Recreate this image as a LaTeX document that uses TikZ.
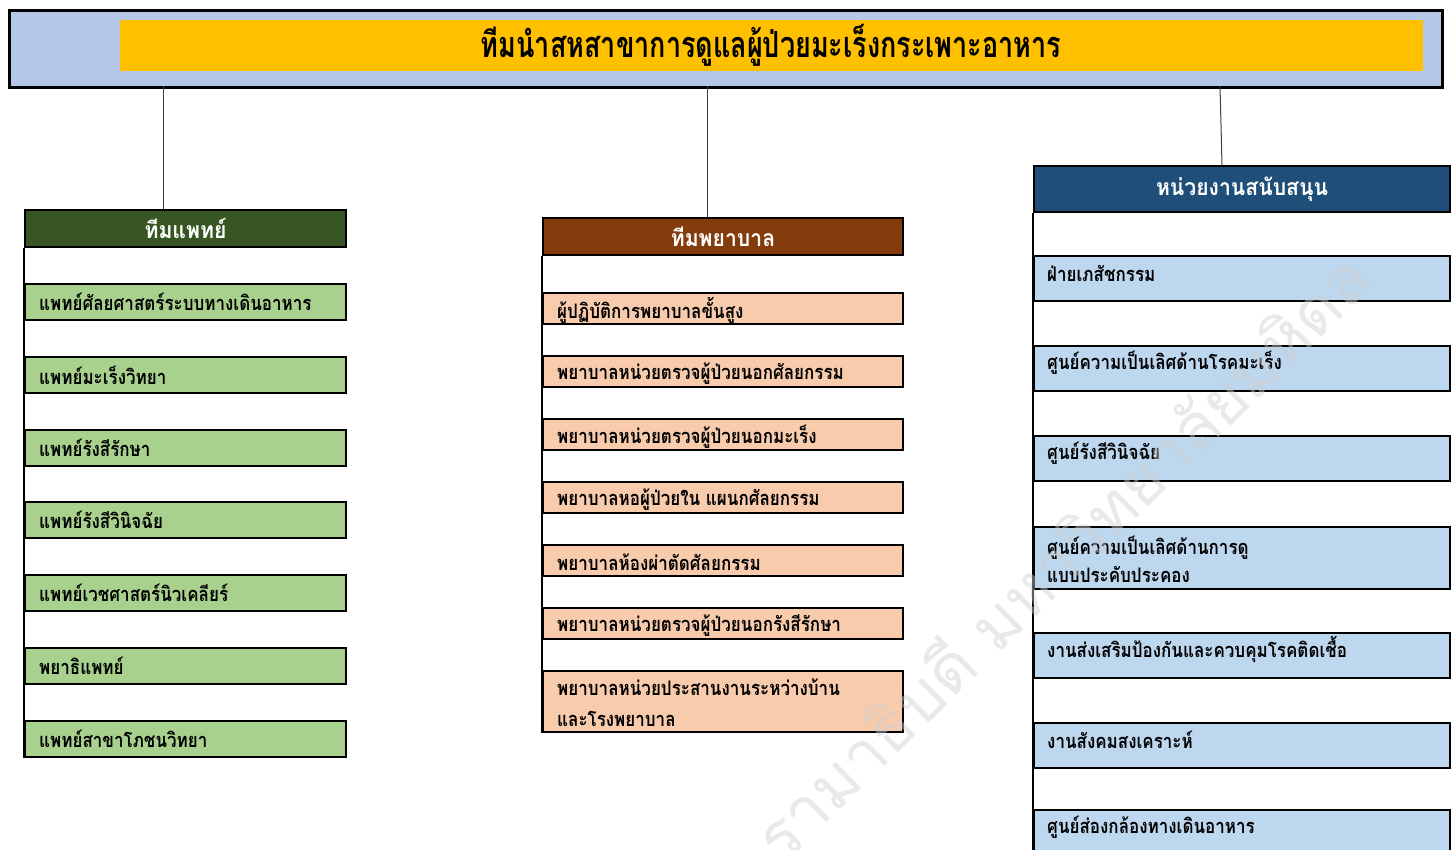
\documentclass[tikz,border=0pt]{standalone}
\usepackage{fontspec}
\newfontfamily\thai[Script=Thai]{Loma}
\newfontfamily\thaiitem[Script=Thai,FakeStretch=0.85]{Loma}
\newfontfamily\thaihdr[Script=Thai,FakeStretch=0.92]{Loma}
\newfontfamily\thaicond[Script=Thai,FakeStretch=0.75]{Loma}
\definecolor{titlebg}{HTML}{B4C7E7}
\definecolor{titley}{HTML}{FFC000}
\definecolor{dgreen}{HTML}{375623}
\definecolor{lgreen}{HTML}{A9D18E}
\definecolor{brown}{HTML}{843C0C}
\definecolor{peach}{HTML}{F8CBAD}
\definecolor{dblue}{HTML}{1F4E79}
\definecolor{lblue}{HTML}{BDD7EE}
\definecolor{conn}{HTML}{404040}
\definecolor{wmark}{HTML}{CFCFCF}
\begin{document}
\begin{tikzpicture}[x=1pt,y=-1pt,
  box/.style={anchor=north west,inner sep=0pt,draw=black,line width=2pt},
  hdrL/.style={box,fill=dgreen,minimum width=321pt,minimum height=37pt},
  hdrM/.style={box,fill=brown,minimum width=360pt,minimum height=37pt},
  hdrR/.style={box,fill=dblue,minimum width=416pt,minimum height=46pt},
  hdrtxt/.style={text=white,font=\thaihdr\bfseries\fontsize{23}{26}\selectfont},
  itemL/.style={box,fill=lgreen,minimum width=321pt,minimum height=36pt},
  itemM/.style={box,fill=peach,minimum width=360pt,minimum height=#1},
  itemM/.default=31pt,
  itemR/.style={box,fill=lblue,minimum width=416pt,minimum height=#1},
  itemR/.default=45pt,
  txt/.style={anchor=west,inner sep=0pt,align=left,font=\thaiitem\bfseries\fontsize{20}{31}\selectfont},
  txtR/.style={txt,font=\thaiitem\bfseries\fontsize{20}{28}\selectfont},
  spine/.style={draw=black,line width=2pt},
  connector/.style={draw=conn,line width=1pt}]
\useasboundingbox (0,0) rectangle (1456,849);
% title
\node[anchor=north west,inner sep=0pt,draw=black,line width=2.5pt,fill=titlebg,minimum width=1433pt,minimum height=77pt] (top) at (8,9) {};
\node[anchor=north west,inner sep=0pt,fill=titley,minimum width=1303pt,minimum height=51pt] (band) at (120,20) {};
\node[inner sep=0pt,font=\thaicond\bfseries\fontsize{36}{40}\selectfont] (title) at (771,45) {ทีมนำสหสาขาการดูแลผู้ป่วยมะเร็งกระเพาะอาหาร};
% left column
\node[hdrL,hdrtxt] (L0) at (24,209) {ทีมแพทย์};
\node[itemL] (L1) at (24,283) {};
\node[itemL] (L2) at (24,356) {};
\node[itemL] (L3) at (24,429) {};
\node[itemL] (L4) at (24,501) {};
\node[itemL] (L5) at (24,574) {};
\node[itemL] (L6) at (24,647) {};
\node[itemL] (L7) at (24,720) {};
\node[txt] (L1t) at ([xshift=15pt]L1.west) {แพทย์ศัลยศาสตร์ระบบทางเดินอาหาร};
\node[txt] (L2t) at ([xshift=15pt]L2.west) {แพทย์มะเร็งวิทยา};
\node[txt] (L3t) at ([xshift=15pt]L3.west) {แพทย์รังสีรักษา};
\node[txt] (L4t) at ([xshift=15pt]L4.west) {แพทย์รังสีวินิจฉัย};
\node[txt] (L5t) at ([xshift=15pt]L5.west) {แพทย์เวชศาสตร์นิวเคลียร์};
\node[txt] (L6t) at ([xshift=15pt]L6.west) {พยาธิแพทย์};
\node[txt] (L7t) at ([xshift=15pt]L7.west) {แพทย์สาขาโภชนวิทยา};
\draw[spine] (L0.south west) -- (L7.south west);
% middle column
\node[hdrM,hdrtxt] (M0) at (542,217) {ทีมพยาบาล};
\node[itemM] (M1) at (542,292) {};
\node[itemM] (M2) at (542,355) {};
\node[itemM] (M3) at (542,418) {};
\node[itemM] (M4) at (542,481) {};
\node[itemM] (M5) at (542,544) {};
\node[itemM] (M6) at (542,607) {};
\node[itemM=61pt] (M7) at (542,670) {};
\node[txt] (M1t) at ([xshift=15pt,yshift=-2pt]M1.west) {ผู้ปฏิบัติการพยาบาลขั้นสูง};
\node[txt] (M2t) at ([xshift=15pt,yshift=-2pt]M2.west) {พยาบาลหน่วยตรวจผู้ป่วยนอกศัลยกรรม};
\node[txt] (M3t) at ([xshift=15pt,yshift=-2pt]M3.west) {พยาบาลหน่วยตรวจผู้ป่วยนอกมะเร็ง};
\node[txt] (M4t) at ([xshift=15pt,yshift=-2pt]M4.west) {พยาบาลหอผู้ป่วยใน แผนกศัลยกรรม};
\node[txt] (M5t) at ([xshift=15pt,yshift=-2pt]M5.west) {พยาบาลห้องผ่าตัดศัลยกรรม};
\node[txt] (M6t) at ([xshift=15pt,yshift=-2pt]M6.west) {พยาบาลหน่วยตรวจผู้ป่วยนอกรังสีรักษา};
\node[txt] (M7t) at ([xshift=15pt,yshift=-1pt]M7.west) {พยาบาลหน่วยประสานงานระหว่างบ้าน\\และโรงพยาบาล};
\draw[spine] (M0.south west) -- (M7.south west);
% right column
\node[hdrR,hdrtxt] (R0) at (1033,165) {หน่วยงานสนับสนุน};
\node[itemR] (R1) at (1033,255) {};
\node[itemR] (R2) at (1033,345) {};
\node[itemR] (R3) at (1033,435) {};
\node[itemR=62pt] (R4) at (1033,526) {};
\node[itemR] (R5) at (1033,632) {};
\node[itemR] (R6) at (1033,722) {};
\node[itemR=60pt] (R7) at (1033,809) {};
\node[txtR] (R1t) at ([xshift=14pt,yshift=-18pt]R1.north west) {ฝ่ายเภสัชกรรม};
\node[txtR] (R2t) at ([xshift=14pt,yshift=-18pt]R2.north west) {ศูนย์ความเป็นเลิศด้านโรคมะเร็ง};
\node[txtR] (R3t) at ([xshift=14pt,yshift=-18pt]R3.north west) {ศูนย์รังสีวินิจฉัย};
\node[txtR] (R4t) at ([xshift=14pt,yshift=-33pt]R4.north west) {ศูนย์ความเป็นเลิศด้านการดู\\แบบประคับประคอง};
\node[txtR] (R5t) at ([xshift=14pt,yshift=-18pt]R5.north west) {งานส่งเสริมป้องกันและควบคุมโรคติดเชื้อ};
\node[txtR] (R6t) at ([xshift=14pt,yshift=-18pt]R6.north west) {งานสังคมสงเคราะห์};
\node[txtR] (R7t) at ([xshift=14pt,yshift=-18pt]R7.north west) {ศูนย์ส่องกล้องทางเดินอาหาร};
\draw[spine] (R0.south west) -- (R7.south west);
% connectors
\coordinate (c1) at (163,86);
\coordinate (c2) at (707,86);
\coordinate (c3) at (1220,86);
\draw[connector] (c1) -- (c1 |- L0.north);
\draw[connector] (c2) -- (c2 |- M0.north);
\draw[connector] (c3) -- ([xshift=2pt]c3 |- R0.north);
% watermark (faint, on top)
\begin{scope}
\clip (0,0) rectangle (1456,849);
\node[rotate=44.5,text=wmark,text opacity=0.45,inner sep=0pt,font=\thai\fontsize{66}{70}\selectfont] (wm) at (1060,555) {รามาธิบดี มหาวิทยาลัยมหิดล};
\end{scope}
\end{tikzpicture}
\end{document}
